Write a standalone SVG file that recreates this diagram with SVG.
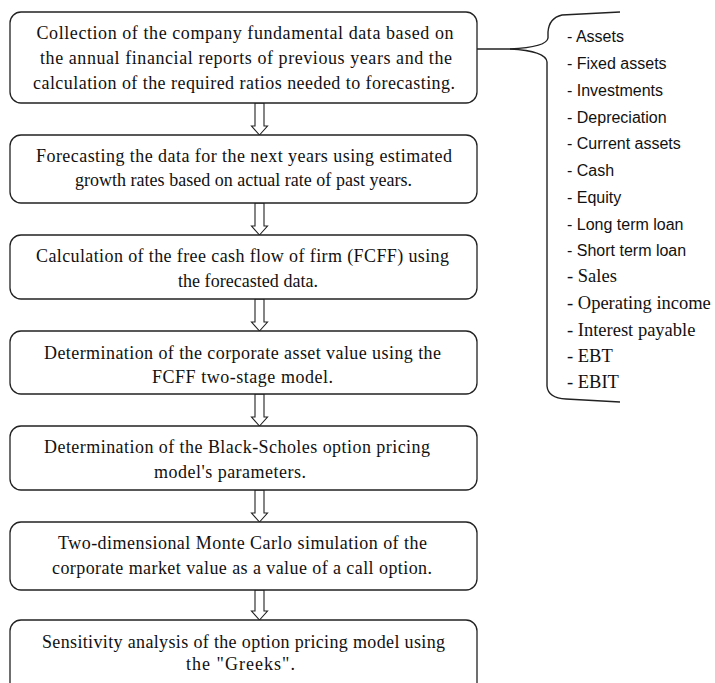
<svg xmlns="http://www.w3.org/2000/svg" width="715" height="683" viewBox="0 0 715 683">
<style>
.box{fill:#fff;stroke:#222;stroke-width:1.3}
.t{font-family:"Liberation Serif","Times New Roman",serif;font-size:18px;fill:#111;text-anchor:middle}
.ls{font-family:"Liberation Sans",Arial,sans-serif;font-size:16px;fill:#111}
.lr{font-family:"Liberation Serif","Times New Roman",serif;font-size:18.5px;fill:#111}
.arr{fill:#fff;stroke:#222;stroke-width:1.1;stroke-linejoin:miter}
.br{fill:none;stroke:#222;stroke-width:1.4}
</style>
<rect width="715" height="683" fill="#fff"/>
<g id="connectors">
<polygon class="arr" points="255,103 255,126 251.5,126 259.5,135 267.5,126 264,126 264,103"/>
<polygon class="arr" points="255,203 255,226 251.5,226 259.5,235 267.5,226 264,226 264,203"/>
<polygon class="arr" points="255,299 255,322 251.5,322 259.5,331 267.5,322 264,322 264,299"/>
<polygon class="arr" points="255,394 255,417 251.5,417 259.5,426 267.5,417 264,417 264,394"/>
<polygon class="arr" points="255,490 255,513 251.5,513 259.5,522 267.5,513 264,513 264,490"/>
<polygon class="arr" points="255,590 255,611 251.5,611 259.5,620 267.5,611 264,611 264,590"/>
<path class="br" d="M477,49 L510,49"/>
<path class="br" d="M620,12 L562,15 Q549,18 548,32 L548,38 Q547,47 510,49"/>
<path class="br" d="M510,49 Q546,51 547,62 L547,386 Q548,398 566,399 L620,402"/>
</g>
<g id="n1">
<rect class="box" x="10" y="12" width="467" height="91" rx="11"/>
<text class="t" x="245" y="39" textLength="417">Collection of the company fundamental data based on</text>
<text class="t" x="246" y="64" textLength="412">the annual financial reports of previous years and the</text>
<text class="t" x="244" y="89" textLength="422">calculation of the required ratios needed to forecasting.</text>
</g>
<g id="n2">
<rect class="box" x="10" y="135" width="467" height="68" rx="11"/>
<text class="t" x="244" y="162" textLength="416">Forecasting the data for the next years using estimated</text>
<text class="t" x="243.5" y="186" textLength="337">growth rates based on actual rate of past years.</text>
</g>
<g id="n3">
<rect class="box" x="10" y="235" width="467" height="64" rx="11"/>
<text class="t" x="242.5" y="262" textLength="413">Calculation of the free cash flow of firm (FCFF) using</text>
<text class="t" x="248" y="287" textLength="140">the forecasted data.</text>
</g>
<g id="n4">
<rect class="box" x="10" y="331" width="467" height="63" rx="11"/>
<text class="t" x="242.5" y="359" textLength="397">Determination of the corporate asset value using the</text>
<text class="t" x="242.5" y="383" textLength="181">FCFF two-stage model.</text>
</g>
<g id="n5">
<rect class="box" x="10" y="426" width="467" height="64" rx="11"/>
<text class="t" x="237" y="453" textLength="386">Determination of the Black-Scholes option pricing</text>
<text class="t" x="230" y="478" textLength="152">model's parameters.</text>
</g>
<g id="n6">
<rect class="box" x="10" y="522" width="467" height="68" rx="11"/>
<text class="t" x="242.5" y="549" textLength="369">Two-dimensional Monte Carlo simulation of the</text>
<text class="t" x="242" y="574" textLength="380">corporate market value as a value of a call option.</text>
</g>
<g id="n7">
<rect class="box" x="10" y="620" width="467" height="80" rx="11"/>
<text class="t" x="243.5" y="648" textLength="403">Sensitivity analysis of the option pricing model using</text>
<text class="t" x="240.5" y="670" textLength="109">the "Greeks".</text>
</g>
<g id="list">
<text class="ls" x="567" y="42">- Assets</text>
<text class="ls" x="567" y="69">- Fixed assets</text>
<text class="ls" x="567" y="96">- Investments</text>
<text class="ls" x="567" y="123">- Depreciation</text>
<text class="ls" x="567" y="149">- Current assets</text>
<text class="ls" x="567" y="176">- Cash</text>
<text class="ls" x="567" y="203">- Equity</text>
<text class="ls" x="567" y="230">- Long term loan</text>
<text class="ls" x="567" y="256">- Short term loan</text>
<text class="lr" x="567" y="282">- Sales</text>
<text class="lr" x="567" y="309">- Operating income</text>
<text class="lr" x="567" y="336">- Interest payable</text>
<text class="lr" x="567" y="362">- EBT</text>
<text class="lr" x="567" y="388">- EBIT</text>
</g>
</svg>
